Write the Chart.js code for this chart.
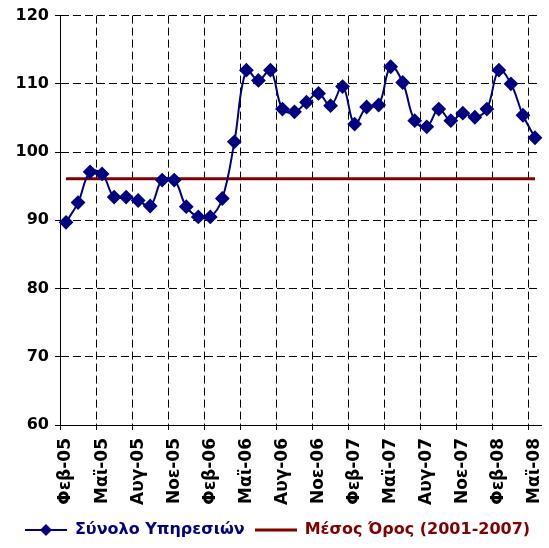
<!DOCTYPE html>
<html>
<head>
<meta charset="utf-8">
<script src="https://cdn.jsdelivr.net/npm/chart.js@4"></script>
<style>
  html, body { margin: 0; padding: 0; background: #fff; }
  #wrap { width: 549px; height: 548px; }
</style>
</head>
<body>
<div id="wrap"><canvas id="chart"></canvas></div>
<script>
const months = ['Φεβ', 'Μαρ', 'Απρ', 'Μαϊ', 'Ιουν', 'Ιουλ', 'Αυγ', 'Σεπ', 'Οκτ', 'Νοε', 'Δεκ', 'Ιαν'];
const years = ['05', '05', '05', '05', '05', '05', '05', '05', '05', '05', '05', '06',
               '06', '06', '06', '06', '06', '06', '06', '06', '06', '06', '06', '07',
               '07', '07', '07', '07', '07', '07', '07', '07', '07', '07', '07', '08',
               '08', '08', '08', '08'];
const categories = years.map((y, i) => months[i % 12] + '-' + y);

const totalServices = [
    89.7, 92.6, 97.1, 96.8, 93.4, 93.4, 92.9, 92.1, 95.9, 95.9,
    92.0, 90.5, 90.5, 93.2, 101.5, 112.0, 110.5, 112.0, 106.3, 105.9,
    107.3, 108.6, 106.8, 109.6, 104.1, 106.6, 106.9, 112.5, 110.2, 104.6,
    103.7, 106.3, 104.6, 105.7, 105.1, 106.3, 112.0, 110.0, 105.4, 102.1
];
const averageLevel = 96.1;
const averageSeries = categories.map(() => averageLevel);

const seriesNames = ['Σύνολο Υπηρεσιών', 'Μέσος Όρος (2001-2007)'];
const yTicks = { min: 60, max: 120, step: 10 };

const NAVY = '#000080';
const DARKRED = '#800000';
const FONT = '"DejaVu Sans", Verdana, sans-serif';

// legend markers: line with diamond, plain thick line
function legendIcon(color, width, diamond) {
    const c = document.createElement('canvas');
    c.width = 42;
    c.height = 14;
    const g = c.getContext('2d');
    g.strokeStyle = color;
    g.lineWidth = width;
    g.beginPath();
    g.moveTo(0, 7);
    g.lineTo(42, 7);
    g.stroke();
    if (diamond) {
        g.fillStyle = color;
        g.beginPath();
        g.moveTo(21, 1);
        g.lineTo(27, 7);
        g.lineTo(21, 13);
        g.lineTo(15, 7);
        g.closePath();
        g.fill();
    }
    return c;
}

const ctx = document.getElementById('chart').getContext('2d');

new Chart(ctx, {
    type: 'line',
    data: {
        labels: categories,
        datasets: [{
            label: seriesNames[0],
            data: totalServices,
            borderColor: NAVY,
            backgroundColor: NAVY,
            borderWidth: 2,
            tension: 0.4,
            pointStyle: 'rectRot',
            pointRadius: 6,
            pointHoverRadius: 6,
            pointBackgroundColor: NAVY,
            pointBorderColor: NAVY,
            order: 1
        }, {
            label: seriesNames[1],
            data: averageSeries,
            borderColor: DARKRED,
            backgroundColor: DARKRED,
            borderWidth: 3,
            pointRadius: 0,
            tension: 0,
            order: 2
        }]
    },
    options: {
        responsive: true,
        maintainAspectRatio: false,
        animation: false,
        layout: {
            padding: { top: 8, right: 4, bottom: 0, left: 10 }
        },
        scales: {
            x: {
                type: 'category',
                offset: true,
                grid: {
                    offset: true,
                    color: (c) => (c.index % 3 === 0 ? '#000' : 'rgba(0,0,0,0)'),
                    tickColor: (c) => (c.index % 3 === 0 ? '#000' : 'rgba(0,0,0,0)'),
                    tickBorderDash: [],
                    tickLength: 5,
                    lineWidth: 1
                },
                border: { display: true, color: '#000', width: 1, dash: [8, 4] },
                ticks: {
                    autoSkip: false,
                    maxRotation: 90,
                    minRotation: 90,
                    padding: 8,
                    color: '#000',
                    font: { family: FONT, size: 17, weight: 'bold' },
                    callback: function (value, index) {
                        return index % 3 === 0 ? this.getLabelForValue(value) : '';
                    }
                },
                afterFit: (scale) => {
                    scale.height = 87;
                    scale.paddingLeft = 0;
                    scale.paddingRight = 0;
                }
            },
            y: {
                min: yTicks.min,
                max: yTicks.max,
                grid: {
                    color: '#000',
                    tickBorderDash: [],
                    tickLength: 5,
                    lineWidth: 1
                },
                border: { display: true, color: '#000', width: 1, dash: [8, 4] },
                ticks: {
                    stepSize: yTicks.step,
                    padding: 6,
                    color: '#000',
                    font: { family: FONT, size: 16, weight: 'bold' }
                },
                afterFit: (scale) => { scale.width = 50; }
            }
        },
        plugins: {
            legend: {
                display: true,
                position: 'bottom',
                labels: {
                    usePointStyle: true,
                    pointStyleWidth: 42,
                    padding: 10,
                    font: { family: FONT, size: 16, weight: 'bold' },
                    generateLabels: () => [{
                        text: seriesNames[0],
                        fillStyle: NAVY,
                        strokeStyle: NAVY,
                        fontColor: NAVY,
                        lineWidth: 0,
                        pointStyle: legendIcon(NAVY, 2, true),
                        hidden: false,
                        datasetIndex: 0
                    }, {
                        text: seriesNames[1],
                        fillStyle: DARKRED,
                        strokeStyle: DARKRED,
                        fontColor: DARKRED,
                        lineWidth: 0,
                        pointStyle: legendIcon(DARKRED, 3, false),
                        hidden: false,
                        datasetIndex: 1
                    }]
                }
            },
            tooltip: { enabled: false }
        }
    }
});
</script>
</body>
</html>
